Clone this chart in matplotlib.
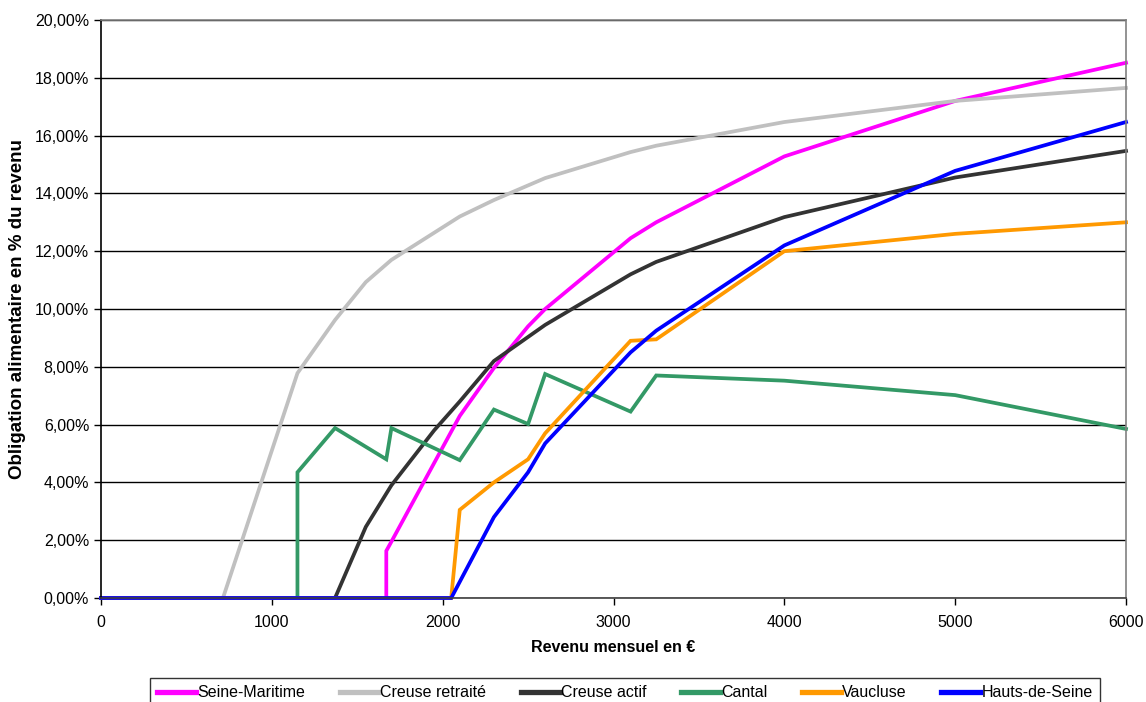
import matplotlib.pyplot as plt
from matplotlib.ticker import FuncFormatter

plt.rcParams['font.family'] = ['Liberation Sans', 'DejaVu Sans']

# revenus (euros) et obligation alimentaire (% du revenu) par departement
x_seine_maritime = [0, 1670, 1670, 1700, 2100, 2300, 2500, 2600, 3100, 3250, 4000, 5000, 6000]
y_seine_maritime = [0, 0, 1.63, 1.95, 6.3, 7.96, 9.4, 10.0, 12.45, 13.0, 15.28, 17.2, 18.52]

x_creuse_retraite = [0, 714, 1150, 1370, 1550, 1700, 2100, 2300, 2600, 3100, 3250, 4000, 5000, 6000]
y_creuse_retraite = [0, 0, 7.78, 9.62, 10.93, 11.7, 13.2, 13.77, 14.53, 15.43, 15.65, 16.47, 17.2, 17.65]

x_creuse_actif = [0, 1370, 1550, 1700, 1950, 2100, 2300, 2600, 3100, 3250, 4000, 5000, 6000]
y_creuse_actif = [0, 0, 2.46, 3.9, 5.8, 6.8, 8.2, 9.45, 11.2, 11.63, 13.18, 14.55, 15.47]

x_cantal = [0, 1150, 1150, 1370, 1670, 1700, 2100, 2300, 2500, 2600, 3100, 3250, 4000, 5000, 6000]
y_cantal = [0, 0, 4.35, 5.88, 4.8, 5.88, 4.77, 6.52, 6.02, 7.75, 6.45, 7.7, 7.52, 7.02, 5.85]

x_vaucluse = [0, 2050, 2100, 2300, 2500, 2600, 3100, 3250, 4000, 5000, 6000]
y_vaucluse = [0, 0, 3.05, 4.0, 4.8, 5.7, 8.9, 8.95, 12.0, 12.6, 13.0]

x_hauts_de_seine = [0, 2050, 2300, 2500, 2600, 3100, 3250, 4000, 5000, 6000]
y_hauts_de_seine = [0, 0, 2.8, 4.35, 5.35, 8.5, 9.25, 12.2, 14.78, 16.47]

series = [
    ("Seine-Maritime", x_seine_maritime, y_seine_maritime, "#FF00FF"),
    ("Creuse retraité", x_creuse_retraite, y_creuse_retraite, "#C0C0C0"),
    ("Creuse actif", x_creuse_actif, y_creuse_actif, "#333333"),
    ("Cantal", x_cantal, y_cantal, "#339966"),
    ("Vaucluse", x_vaucluse, y_vaucluse, "#FF9900"),
    ("Hauts-de-Seine", x_hauts_de_seine, y_hauts_de_seine, "#0000FF"),
]

W, H = 1146, 702
fig = plt.figure(figsize=(W/100, H/100), dpi=100)
ax = fig.add_axes([101/W, 1 - 598/H, (1126 - 101)/W, (598 - 20)/H])

for nom, xs, ys, couleur in series:
    ax.plot(xs, ys, color=couleur, lw=2.7, label=nom, solid_joinstyle='miter', clip_on=False)

ax.set_xlim(0, 6000)
ax.set_ylim(0, 20)
ax.set_xticks(range(0, 6001, 1000))
ax.set_yticks(range(0, 21, 2))
ax.yaxis.set_major_formatter(FuncFormatter(lambda v, p: f"{v:.2f}".replace(".", ",") + "%"))
ax.tick_params(labelsize=11.5, length=5, width=1, color='black')
ax.tick_params(axis='x', pad=7)
ax.grid(axis='y', color='black', lw=1)
ax.set_axisbelow(True)

ax.spines['left'].set_color('black')
ax.spines['bottom'].set_color('#404040')
ax.spines['top'].set_color('#808080')
ax.spines['right'].set_color('#808080')
for s in ax.spines.values():
    s.set_linewidth(1.2)

# titres des axes
fig.text(613/W, 1 - 647/H, "Revenu mensuel en €", fontsize=11.5, fontweight='bold',
         ha='center', va='center')
fig.text(18/W, 1 - 309/H, "Obligation alimentaire en % du revenu", fontsize=13.5,
         fontweight='bold', rotation=90, ha='center', va='center')

leg = fig.legend(loc='upper center', bbox_to_anchor=(625/W, 1 - 678/H), ncol=6,
                 fontsize=11.5, frameon=True, fancybox=False, edgecolor='black',
                 handlelength=2.45, handletextpad=0.08, columnspacing=2.15,
                 borderpad=0.45, borderaxespad=0)
leg.get_frame().set_linewidth(1)
for h in leg.get_lines():
    h.set_linewidth(3.8)

fig.savefig("out.png", dpi=100, facecolor='white')
